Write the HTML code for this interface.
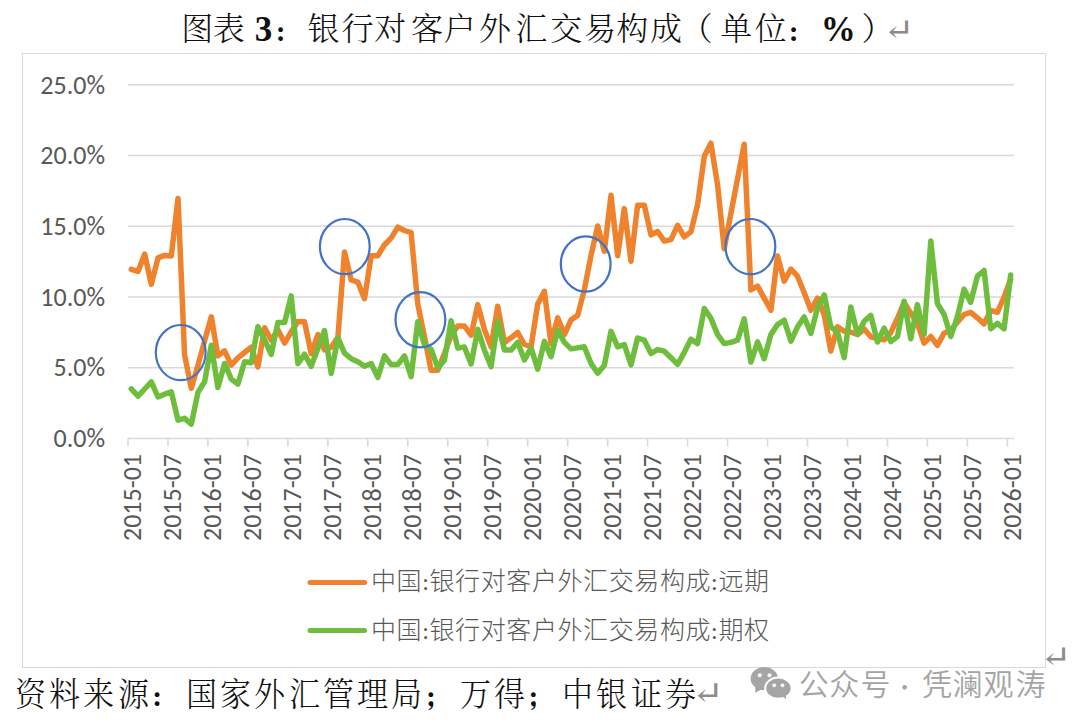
<!DOCTYPE html>
<html><head><meta charset="utf-8">
<style>
html,body{margin:0;padding:0;background:#fff;--fw:300;}
body{width:1080px;height:728px;position:relative;overflow:hidden;}
.g{position:absolute;white-space:nowrap;line-height:40px;}
.t{font-family:"Noto Serif CJK SC",serif;font-weight:var(--fw);font-size:32px;color:#111;}
.tb{font-family:"Liberation Serif",serif;font-weight:bold;font-size:35px;color:#111;}
.box{position:absolute;left:22px;top:53px;width:1022px;height:613px;border:1px solid #d9d9d9;}
svg.chart{position:absolute;left:0;top:0;}
.yl{font-family:Carlito,"Liberation Sans",sans-serif;font-size:26px;fill:#595959;text-anchor:end;}
.xl{font-family:Carlito,"Liberation Sans",sans-serif;font-size:26px;fill:#595959;text-anchor:end;}
.lg{font-family:"Noto Sans CJK SC",sans-serif;font-weight:300;font-size:25px;letter-spacing:0.6px;fill:#595959;}
.lc{font-family:Carlito,"Liberation Sans",sans-serif;}
.ft{font-family:"Noto Serif CJK SC",serif;font-weight:var(--fw);font-size:33px;color:#111;transform:scaleX(0.94);}
.pb{font-family:"Noto Serif CJK SC",serif;font-weight:900;font-size:23px;color:#111;}
.wm{font-family:"Noto Sans CJK SC",sans-serif;font-weight:350;font-size:30px;color:#a4a4a4;}
.wd{font-size:22px;}
.ar{position:absolute;line-height:40px;font-family:"DejaVu Serif",serif;color:#8c8c8c;white-space:nowrap;}
.wx{position:absolute;left:750px;top:666px;}
</style></head><body>
<span class="g t" style="left:181.2px;top:5.8px">图</span><span class="g t" style="left:212.7px;top:5.8px">表</span><span class="g tb" style="left:254.8px;top:9.9px">3</span><span class="g pb" style="left:274.1px;top:12.0px">：</span><span class="g t" style="left:307.6px;top:5.8px">银</span><span class="g t" style="left:341.6px;top:5.8px">行</span><span class="g t" style="left:374.2px;top:5.8px">对</span><span class="g t" style="left:410.9px;top:5.8px">客</span><span class="g t" style="left:443.8px;top:5.8px">户</span><span class="g t" style="left:478.9px;top:5.8px">外</span><span class="g t" style="left:515.2px;top:5.8px">汇</span><span class="g t" style="left:550.2px;top:5.8px">交</span><span class="g t" style="left:584.0px;top:5.8px">易</span><span class="g t" style="left:616.2px;top:5.8px">构</span><span class="g t" style="left:650.0px;top:5.8px">成</span><span class="g t" style="left:680.5px;top:5.8px">（</span><span class="g t" style="left:720.2px;top:5.8px">单</span><span class="g t" style="left:754.5px;top:5.8px">位</span><span class="g pb" style="left:787.1px;top:12.0px">：</span><span class="g tb" style="left:820.7px;top:9.9px">%</span><span class="g t" style="left:861.5px;top:5.8px">）</span>
<div class="box"></div>
<svg class="chart" width="1080" height="728" viewBox="0 0 1080 728">
<line x1="128" y1="367.8" x2="1014" y2="367.8" stroke="#d9d9d9" stroke-width="1.6"/>
<line x1="128" y1="297.0" x2="1014" y2="297.0" stroke="#d9d9d9" stroke-width="1.6"/>
<line x1="128" y1="226.2" x2="1014" y2="226.2" stroke="#d9d9d9" stroke-width="1.6"/>
<line x1="128" y1="155.5" x2="1014" y2="155.5" stroke="#d9d9d9" stroke-width="1.6"/>
<line x1="128" y1="84.8" x2="1014" y2="84.8" stroke="#d9d9d9" stroke-width="1.6"/>
<line x1="128" y1="438.5" x2="1014" y2="438.5" stroke="#d9d9d9" stroke-width="1.6"/>
<line x1="128.0" y1="438.5" x2="128.0" y2="446.5" stroke="#d9d9d9" stroke-width="1.6"/>
<line x1="168.0" y1="438.5" x2="168.0" y2="446.5" stroke="#d9d9d9" stroke-width="1.6"/>
<line x1="207.9" y1="438.5" x2="207.9" y2="446.5" stroke="#d9d9d9" stroke-width="1.6"/>
<line x1="247.9" y1="438.5" x2="247.9" y2="446.5" stroke="#d9d9d9" stroke-width="1.6"/>
<line x1="287.9" y1="438.5" x2="287.9" y2="446.5" stroke="#d9d9d9" stroke-width="1.6"/>
<line x1="327.9" y1="438.5" x2="327.9" y2="446.5" stroke="#d9d9d9" stroke-width="1.6"/>
<line x1="367.8" y1="438.5" x2="367.8" y2="446.5" stroke="#d9d9d9" stroke-width="1.6"/>
<line x1="407.8" y1="438.5" x2="407.8" y2="446.5" stroke="#d9d9d9" stroke-width="1.6"/>
<line x1="447.8" y1="438.5" x2="447.8" y2="446.5" stroke="#d9d9d9" stroke-width="1.6"/>
<line x1="487.7" y1="438.5" x2="487.7" y2="446.5" stroke="#d9d9d9" stroke-width="1.6"/>
<line x1="527.7" y1="438.5" x2="527.7" y2="446.5" stroke="#d9d9d9" stroke-width="1.6"/>
<line x1="567.7" y1="438.5" x2="567.7" y2="446.5" stroke="#d9d9d9" stroke-width="1.6"/>
<line x1="607.7" y1="438.5" x2="607.7" y2="446.5" stroke="#d9d9d9" stroke-width="1.6"/>
<line x1="647.6" y1="438.5" x2="647.6" y2="446.5" stroke="#d9d9d9" stroke-width="1.6"/>
<line x1="687.6" y1="438.5" x2="687.6" y2="446.5" stroke="#d9d9d9" stroke-width="1.6"/>
<line x1="727.6" y1="438.5" x2="727.6" y2="446.5" stroke="#d9d9d9" stroke-width="1.6"/>
<line x1="767.6" y1="438.5" x2="767.6" y2="446.5" stroke="#d9d9d9" stroke-width="1.6"/>
<line x1="807.5" y1="438.5" x2="807.5" y2="446.5" stroke="#d9d9d9" stroke-width="1.6"/>
<line x1="847.5" y1="438.5" x2="847.5" y2="446.5" stroke="#d9d9d9" stroke-width="1.6"/>
<line x1="887.5" y1="438.5" x2="887.5" y2="446.5" stroke="#d9d9d9" stroke-width="1.6"/>
<line x1="927.4" y1="438.5" x2="927.4" y2="446.5" stroke="#d9d9d9" stroke-width="1.6"/>
<line x1="967.4" y1="438.5" x2="967.4" y2="446.5" stroke="#d9d9d9" stroke-width="1.6"/>
<line x1="1007.4" y1="438.5" x2="1007.4" y2="446.5" stroke="#d9d9d9" stroke-width="1.6"/>
<text x="105" y="447.2" class="yl">0.0%</text>
<text x="105" y="376.4" class="yl">5.0%</text>
<text x="105" y="305.7" class="yl">10.0%</text>
<text x="105" y="234.9" class="yl">15.0%</text>
<text x="105" y="164.2" class="yl">20.0%</text>
<text x="105" y="93.5" class="yl">25.0%</text>
<text transform="translate(141.3,454) rotate(-90)" class="xl">2015-01</text>
<text transform="translate(181.3,454) rotate(-90)" class="xl">2015-07</text>
<text transform="translate(221.2,454) rotate(-90)" class="xl">2016-01</text>
<text transform="translate(261.2,454) rotate(-90)" class="xl">2016-07</text>
<text transform="translate(301.2,454) rotate(-90)" class="xl">2017-01</text>
<text transform="translate(341.2,454) rotate(-90)" class="xl">2017-07</text>
<text transform="translate(381.1,454) rotate(-90)" class="xl">2018-01</text>
<text transform="translate(421.1,454) rotate(-90)" class="xl">2018-07</text>
<text transform="translate(461.1,454) rotate(-90)" class="xl">2019-01</text>
<text transform="translate(501.0,454) rotate(-90)" class="xl">2019-07</text>
<text transform="translate(541.0,454) rotate(-90)" class="xl">2020-01</text>
<text transform="translate(581.0,454) rotate(-90)" class="xl">2020-07</text>
<text transform="translate(621.0,454) rotate(-90)" class="xl">2021-01</text>
<text transform="translate(660.9,454) rotate(-90)" class="xl">2021-07</text>
<text transform="translate(700.9,454) rotate(-90)" class="xl">2022-01</text>
<text transform="translate(740.9,454) rotate(-90)" class="xl">2022-07</text>
<text transform="translate(780.9,454) rotate(-90)" class="xl">2023-01</text>
<text transform="translate(820.8,454) rotate(-90)" class="xl">2023-07</text>
<text transform="translate(860.8,454) rotate(-90)" class="xl">2024-01</text>
<text transform="translate(900.8,454) rotate(-90)" class="xl">2024-07</text>
<text transform="translate(940.7,454) rotate(-90)" class="xl">2025-01</text>
<text transform="translate(980.7,454) rotate(-90)" class="xl">2025-07</text>
<text transform="translate(1020.7,454) rotate(-90)" class="xl">2026-01</text>
<polyline points="131.3,269.3 138.0,271.4 144.7,254.1 151.3,284.3 158.0,257.9 164.6,255.4 171.3,256.0 178.0,198.4 184.6,355.0 191.3,388.3 198.0,365.3 204.6,340.9 211.3,316.8 217.9,355.9 224.6,350.8 231.3,365.1 237.9,357.8 244.6,352.5 251.2,347.2 257.9,366.8 264.6,327.7 271.2,340.0 277.9,329.8 284.6,343.1 291.2,331.8 297.9,321.5 304.5,321.8 311.2,353.6 317.9,334.6 324.5,349.8 331.2,347.2 337.9,337.3 344.5,252.1 351.2,280.0 357.8,282.1 364.5,298.7 371.2,255.8 377.8,255.8 384.5,244.8 391.1,238.1 397.8,227.2 404.5,230.5 411.1,232.6 417.8,304.1 424.5,337.0 431.1,370.2 437.8,370.2 444.4,353.6 451.1,335.2 457.8,326.1 464.4,326.1 471.1,335.2 477.8,304.6 484.4,329.5 491.1,346.8 497.7,306.2 504.4,342.4 511.1,337.8 517.7,332.5 524.4,344.3 531.1,346.5 537.7,304.1 544.4,291.3 551.0,343.6 557.7,317.8 564.4,334.6 571.0,319.9 577.7,315.4 584.3,289.9 591.0,255.7 597.7,226.0 604.3,251.3 611.0,195.3 617.7,255.7 624.3,208.6 631.0,261.2 637.6,205.2 644.3,205.2 651.0,234.9 657.6,231.5 664.3,241.1 671.0,239.6 677.6,225.3 684.3,236.9 690.9,231.9 697.6,204.7 704.3,156.3 710.9,143.2 717.6,184.9 724.2,248.7 730.9,213.5 737.6,178.4 744.2,144.3 750.9,289.9 757.6,286.1 764.2,298.1 770.9,310.3 777.5,256.0 784.2,281.2 790.9,269.1 797.5,276.2 804.2,292.8 810.9,310.3 817.5,298.1 824.2,314.7 830.8,351.1 837.5,326.9 844.2,331.2 850.8,332.2 857.5,334.5 864.2,329.0 870.8,336.8 877.5,338.7 884.1,339.9 890.8,332.7 897.5,318.2 904.1,302.4 910.8,313.4 917.4,323.3 924.1,343.1 930.8,336.5 937.4,345.3 944.1,333.2 950.8,330.0 957.4,322.2 964.1,314.5 970.7,312.3 977.4,317.8 984.1,323.9 990.7,310.4 997.4,312.3 1004.1,297.0 1010.7,279.3" fill="none" stroke="#EF822C" stroke-width="5.5" stroke-linejoin="round" stroke-linecap="round"/>
<polyline points="131.3,388.8 138.0,396.2 144.7,389.0 151.3,381.8 158.0,397.0 164.6,394.2 171.3,391.9 178.0,420.2 184.6,418.3 191.3,424.1 198.0,392.2 204.6,381.8 211.3,345.3 217.9,387.6 224.6,363.5 231.3,379.1 237.9,384.0 244.6,361.7 251.2,362.7 257.9,326.7 264.6,340.0 271.2,354.4 277.9,322.5 284.6,322.5 291.2,295.9 297.9,363.8 304.5,354.2 311.2,366.3 317.9,348.4 324.5,330.5 331.2,373.4 337.9,337.8 344.5,353.2 351.2,358.7 357.8,361.7 364.5,366.3 371.2,363.5 377.8,377.4 384.5,355.9 391.1,364.6 397.8,364.6 404.5,355.9 411.1,376.7 417.8,321.8 424.5,344.8 431.1,349.2 437.8,367.9 444.4,360.3 451.1,320.8 457.8,348.1 464.4,346.9 471.1,363.9 477.8,329.4 484.4,350.2 491.1,366.6 497.7,321.1 504.4,350.1 511.1,350.1 517.7,342.3 524.4,360.0 531.1,347.9 537.7,369.2 544.4,341.3 551.0,356.7 557.7,330.3 564.4,342.4 571.0,348.9 577.7,347.9 584.3,346.8 591.0,363.4 597.7,373.3 604.3,365.5 611.0,331.4 617.7,346.8 624.3,344.5 631.0,364.9 637.6,338.0 644.3,340.2 651.0,353.5 657.6,349.6 664.3,351.2 671.0,357.8 677.6,364.4 684.3,352.3 690.9,339.2 697.6,343.6 704.3,308.5 710.9,318.2 717.6,334.6 724.2,343.6 730.9,342.4 737.6,340.2 744.2,318.9 750.9,362.1 757.6,341.9 764.2,358.7 770.9,334.5 777.5,324.6 784.2,320.2 790.9,341.1 797.5,326.9 804.2,317.0 810.9,333.4 817.5,308.0 824.2,294.9 830.8,326.9 837.5,332.2 844.2,357.6 850.8,307.0 857.5,334.5 864.2,321.3 870.8,315.4 877.5,342.0 884.1,328.1 890.8,341.6 897.5,336.6 904.1,301.2 910.8,338.7 917.4,304.6 924.1,334.4 930.8,241.0 937.4,303.5 944.1,314.5 950.8,336.5 957.4,316.7 964.1,289.2 970.7,302.4 977.4,276.1 984.1,270.5 990.7,328.8 997.4,323.3 1004.1,328.8 1010.7,274.9" fill="none" stroke="#6FBD3C" stroke-width="5.5" stroke-linejoin="round" stroke-linecap="round"/>
<ellipse cx="180.7" cy="352.6" rx="24.9" ry="27.6" fill="none" stroke="#4472C4" stroke-width="2.2"/>
<ellipse cx="344.8" cy="246.6" rx="24.9" ry="27.6" fill="none" stroke="#4472C4" stroke-width="2.2"/>
<ellipse cx="420.4" cy="319.8" rx="24.9" ry="27.6" fill="none" stroke="#4472C4" stroke-width="2.2"/>
<ellipse cx="585.7" cy="264.0" rx="24.9" ry="27.6" fill="none" stroke="#4472C4" stroke-width="2.2"/>
<ellipse cx="750.4" cy="246.6" rx="24.9" ry="27.6" fill="none" stroke="#4472C4" stroke-width="2.2"/>
<line x1="310" y1="582.5" x2="364.5" y2="582.5" stroke="#EF822C" stroke-width="5" stroke-linecap="round"/>
<line x1="310" y1="630.5" x2="364.5" y2="630.5" stroke="#6FBD3C" stroke-width="5" stroke-linecap="round"/>
<text x="371" y="590" class="lg">中国<tspan class="lc">:</tspan>银行对客户外汇交易构成<tspan class="lc">:</tspan>远期</text>
<text x="371" y="639" class="lg">中国<tspan class="lc">:</tspan>银行对客户外汇交易构成<tspan class="lc">:</tspan>期权</text>
</svg>
<span class="ar" style="font-size:30px;left:1043px;top:637px;transform-origin:12px 50%;transform:scaleX(1.25)">↵</span>
<span class="g ft" style="left:14.0px;top:671.8px">资</span><span class="g ft" style="left:48.2px;top:671.8px">料</span><span class="g ft" style="left:82.4px;top:671.8px">来</span><span class="g ft" style="left:116.6px;top:671.8px">源</span><span class="g pb" style="left:150.6px;top:677.1px">：</span><span class="g ft" style="left:185.0px;top:671.8px">国</span><span class="g ft" style="left:219.2px;top:671.8px">家</span><span class="g ft" style="left:253.4px;top:671.8px">外</span><span class="g ft" style="left:287.6px;top:671.8px">汇</span><span class="g ft" style="left:321.8px;top:671.8px">管</span><span class="g ft" style="left:356.0px;top:671.8px">理</span><span class="g ft" style="left:390.2px;top:671.8px">局</span><span class="g pb" style="left:424.2px;top:677.1px">；</span><span class="g ft" style="left:458.6px;top:671.8px">万</span><span class="g ft" style="left:492.8px;top:671.8px">得</span><span class="g pb" style="left:526.8px;top:677.1px">；</span><span class="g ft" style="left:561.2px;top:671.8px">中</span><span class="g ft" style="left:595.4px;top:671.8px">银</span><span class="g ft" style="left:629.6px;top:671.8px">证</span><span class="g ft" style="left:663.8px;top:671.8px">券</span>
<span class="ar" style="font-size:32px;left:693.7px;top:673.4px;transform-origin:13px 50%;transform:scaleX(1.2)">↵</span>
<span class="ar" style="font-size:30px;left:886px;top:9.6px;transform-origin:12px 50%;transform:scaleX(1.25)">↵</span>
<svg class="wx" width="44" height="38" viewBox="0 0 44 38">
<ellipse cx="14.3" cy="12.6" rx="13.7" ry="11.6" fill="#a5a5a5"/>
<path d="M5.5 20.5 L5.0 26.8 L11.8 23.2 Z" fill="#a5a5a5"/>
<ellipse cx="28.4" cy="22.2" rx="13.2" ry="10.6" fill="#a5a5a5" stroke="#fff" stroke-width="2.0"/>
<path d="M32.5 30.2 L36.2 33.2 L35.6 28.5 Z" fill="#a5a5a5"/>
<circle cx="9.8" cy="9.3" r="2.0" fill="#fff"/><circle cx="19.5" cy="9.3" r="2.0" fill="#fff"/>
<circle cx="24.2" cy="19.3" r="1.9" fill="#fff"/><circle cx="32.5" cy="19.3" r="1.9" fill="#fff"/>
</svg>
<span class="g wm" style="left:798.7px;top:662px">公</span><span class="g wm" style="left:829.2px;top:662px">众</span><span class="g wm" style="left:860.4px;top:662px">号</span><span class="g wm wd" style="left:893.6px;top:664.5px">·</span><span class="g wm" style="left:922.0px;top:662px">凭</span><span class="g wm" style="left:952.5px;top:662px">澜</span><span class="g wm" style="left:983.5px;top:662px">观</span><span class="g wm" style="left:1015.5px;top:662px">涛</span>
</body></html>
